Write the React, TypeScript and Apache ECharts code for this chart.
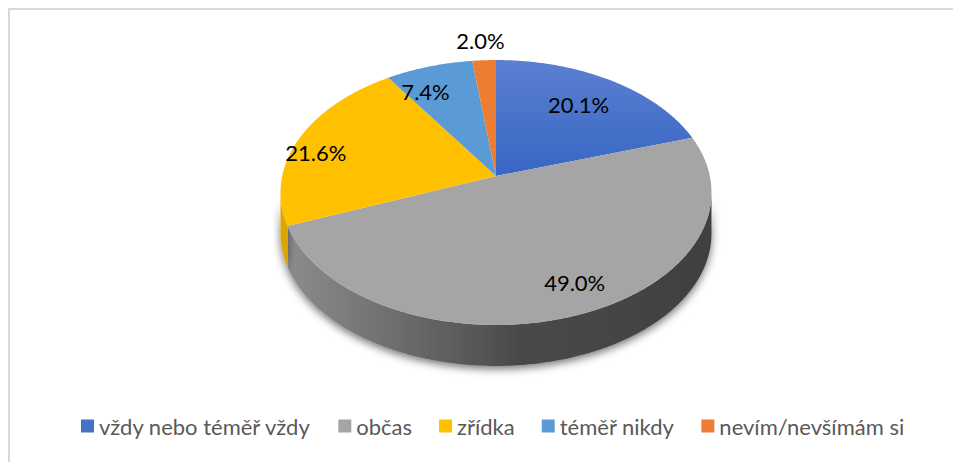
import React, { useEffect, useRef } from "react";
import * as echarts from "echarts";

const categories = ["vždy nebo téměř vždy", "občas", "zřídka", "téměř nikdy", "nevím/nevšímám si"];
const values = [20.1, 49.0, 21.6, 7.4, 2.0];

// styles / layout (not data)
const topColors = ["#4472C4", "#A5A5A5", "#FFC000", "#5B9BD5", "#ED7D31"];
const labelOffsets = [[0, -3], [24, 13], [-41, 3], [-22, -5], [-7, -52]];
const CX = 496, CY = 176, RX = 213.8, RY = 130.4, K = 0.1245, DEPTH = 41;
const FONT = "Lato, 'Open Sans', sans-serif";

const total = values.reduce((s, v) => s + v, 0);
function sliceAngles(i: number): [number, number] {
  let before = 0;
  for (let j = 0; j < i; j++) before += values[j];
  return [(before / total) * Math.PI * 2, ((before + values[i]) / total) * Math.PI * 2];
}
function proj(phi: number, r: number): [number, number] {
  const x = r * Math.sin(phi);
  const y = r * Math.cos(phi);
  const w = 1 + K * y;
  return [CX + (RX * x) / w, CY - (RY * y) / w];
}
function arc(a0: number, a1: number, r = 1): [number, number][] {
  const n = Math.max(2, Math.ceil(((a1 - a0) * 180) / Math.PI / 0.5));
  const pts: [number, number][] = [];
  for (let s = 0; s <= n; s++) pts.push(proj(a0 + ((a1 - a0) * s) / n, r));
  return pts;
}
const SIL0 = Math.acos(-K);
const SIL1 = Math.PI * 2 - SIL0;

function wallFill(i: number) {
  if (i === 1)
    return new echarts.graphic.LinearGradient(0, 0, 1, 0, [
      { offset: 0, color: "#8c8c8c" },
      { offset: 0.3, color: "#686868" },
      { offset: 0.55, color: "#494949" },
      { offset: 1, color: "#404040" },
    ]);
  if (i === 2) return "#dca600";
  return "#555";
}

export default function App() {
  const ref = useRef<HTMLDivElement>(null);
  useEffect(() => {
    if (!ref.current) return;
    const chart = echarts.init(ref.current, null, { renderer: "svg" });

    const wallSeries: any = {
      type: "custom",
      name: "walls",
      coordinateSystem: "none",
      z: 1,
      silent: true,
      data: values.map((v) => [v]),
      renderItem: (params: any) => {
        const i = params.dataIndex;
        const [a0, a1] = sliceAngles(i);
        const s = Math.max(a0, SIL0);
        const e = Math.min(a1, SIL1);
        if (e <= s) return { type: "group", children: [] };
        const topPts = arc(s, e);
        const botPts = topPts.map(([x, y]) => [x, y + DEPTH] as [number, number]).reverse();
        return {
          type: "polygon",
          shape: { points: topPts.concat(botPts) },
          style: {
            fill: wallFill(i),
            shadowBlur: 9,
            shadowColor: "rgba(0,0,0,0.55)",
            shadowOffsetY: 3,
          },
        };
      },
    };

    const topSeries = categories.map((name, i) => ({
      type: "custom",
      name,
      coordinateSystem: "none",
      z: 2,
      itemStyle: { color: topColors[i] },
      data: [[values[i]]],
      renderItem: (_params: any, api: any) => {
        const v = api.value(0);
        const [a0, a1] = sliceAngles(i);
        const pts = [proj(0, 0), ...arc(a0, a1)];
        const mid = (a0 + a1) / 2;
        const [lx, ly] = proj(mid, 0.7);
        const fill =
          i === 0
            ? new echarts.graphic.LinearGradient(0, 0, 0, 1, [
                { offset: 0, color: "#5b80d2" },
                { offset: 1, color: "#3766c3" },
              ])
            : topColors[i];
        return {
          type: "group",
          children: [
            { type: "polygon", shape: { points: pts }, style: { fill } },
            {
              type: "text",
              x: lx + labelOffsets[i][0],
              y: ly + labelOffsets[i][1],
              style: {
                text: v.toFixed(1) + "%",
                fill: "#000000",
                fontSize: 22,
                fontFamily: FONT,
                align: "center",
                verticalAlign: "middle",
                textAlign: "center",
                textVerticalAlign: "middle",
              },
            },
          ],
        };
      },
    }));

    chart.setOption({
      animation: false,
      backgroundColor: "#ffffff",
      legend: {
        data: categories,
        icon: "rect",
        itemWidth: 13,
        itemHeight: 13,
        itemGap: 27,
        left: 81,
        top: 415,
        padding: 0,
        selectedMode: false,
        textStyle: { color: "#595959", fontSize: 22, fontFamily: FONT },
      },
      graphic: [
        {
          type: "polyline",
          shape: { points: [[9, 470], [9, 9], [960, 9]] },
          style: { stroke: "#d9d9d9", lineWidth: 2, fill: "none" },
          silent: true,
        },
      ],
      series: [wallSeries, ...topSeries],
    });
    return () => chart.dispose();
  }, []);
  return (
    <div
      ref={ref}
      style={{ position: "absolute", left: 0, top: 0, width: 953, height: 462 }}
    />
  );
}
